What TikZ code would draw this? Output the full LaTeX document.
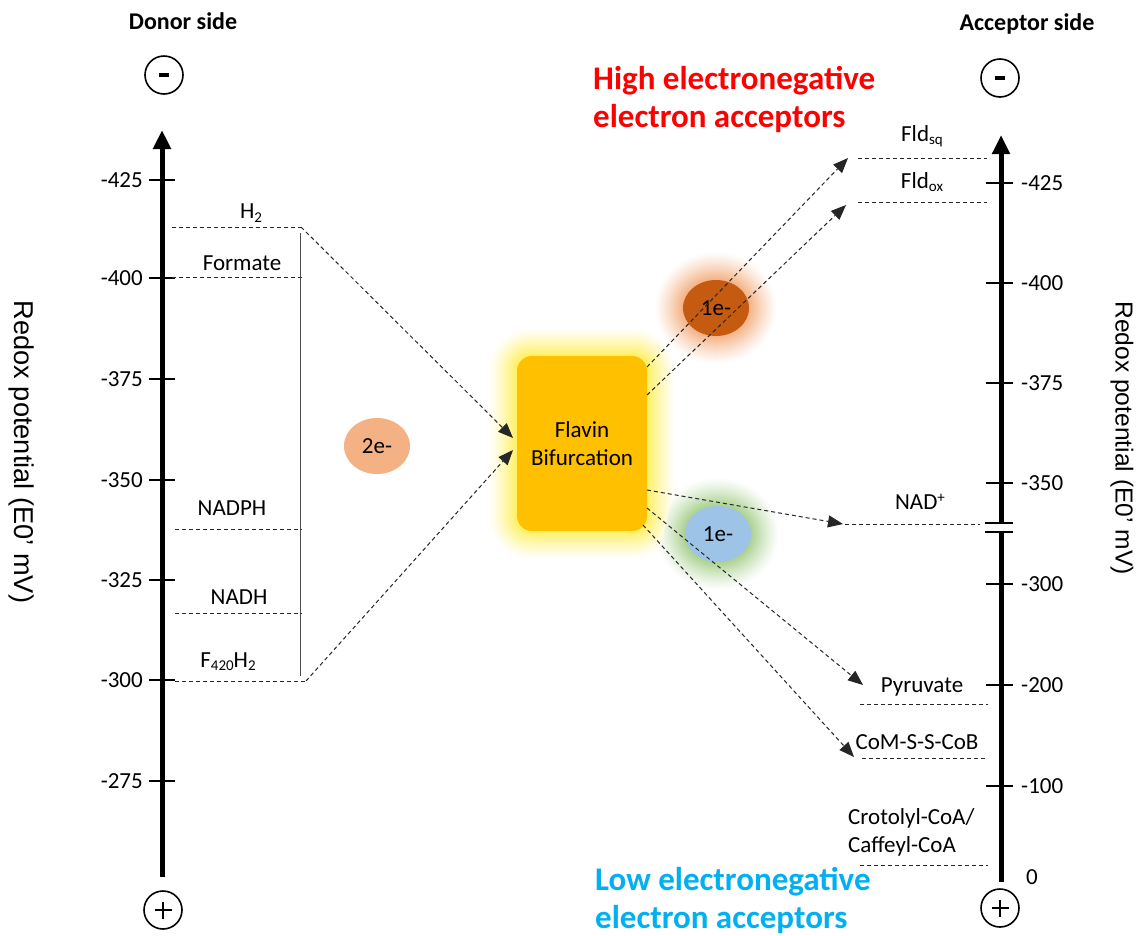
\documentclass[tikz,border=0pt]{standalone}
\usepackage{fontspec}
\setmainfont{Carlito}
\newfontfamily\arialf{Liberation Sans}
\usetikzlibrary{arrows.meta,shapes.geometric}
\definecolor{boxc}{HTML}{FFC000}
\definecolor{glowy}{HTML}{FFF060}
\definecolor{peach}{HTML}{F4B183}
\definecolor{rust}{HTML}{C55A11}
\definecolor{lblue}{HTML}{9DC3E6}
\definecolor{glowg}{HTML}{A9D18E}
\definecolor{hired}{HTML}{FF0000}
\definecolor{loblue}{HTML}{00B0F0}
\newcommand\subsc[1]{\raisebox{-0.3ex}{\fontsize{15}{15}\selectfont #1}}
\newcommand\supsc[1]{\raisebox{0.65ex}{\fontsize{15}{15}\selectfont #1}}
\tikzset{
  lbl/.style={font=\fontsize{23}{28}\selectfont, inner sep=0pt},
  head/.style={font=\bfseries\fontsize{24}{28}\selectfont, inner sep=0pt},
  big/.style={font=\bfseries\fontsize{33}{38}\selectfont, inner sep=0pt, align=left},
  ylab/.style={font=\arialf\fontsize{#1}{30}\selectfont, inner sep=0pt, rotate=-90, text=black},
  lvl/.style={line width=1pt, black!85, dash pattern=on 4pt off 3pt},
  arr/.style={lvl, -{Triangle[length=15pt,width=12pt]}},
  axisline/.style={line width=5pt, -{Triangle[length=19pt,width=17pt]}},
  axisbare/.style={line width=5pt},
  tickm/.style={line width=2.2pt},
  sign/.style={circle, draw, line width=1.6pt, minimum size=38pt, inner sep=0pt},
  blob/.style={ellipse, inner sep=0pt, minimum width=66pt, minimum height=56pt, font=\fontsize{23}{26}\selectfont},
}
\begin{document}
\begin{tikzpicture}[x=1pt,y=-1pt]
\useasboundingbox[fill=white] (0,0) rectangle (1139,935);

% ---------- glows ----------
\foreach \i in {28,27,...,1} {
  \pgfmathsetmacro\m{100*(1-\i/29)^1.2}
  \pgfmathsetmacro\r{15+\i}
  \fill[glowy!\m!white, rounded corners=\r pt] ({517-\i},{356-\i}) rectangle ({647+\i},{531+\i});
  \fill[peach!\m!white] (716,308) ellipse [x radius={33+\i}, y radius={28+\i}];
  \fill[glowg!\m!white] (718,534) ellipse [x radius={33+\i}, y radius={28+\i}];
}

% ---------- headings ----------
\node[head] (donor) at (183,21) {Donor side};
\node[head] (acceptor) at (1027,24) {Acceptor side};
\node[big, text=hired, anchor=west] (hi) at (593,99) {High electronegative\\electron acceptors};
\node[big, text=loblue, anchor=west] (lo) at (595,900) {Low electronegative\\electron acceptors};
\node[ylab=27.2] (ylL) at (22,452) {Redox potential (E0’ mV)};
\node[ylab=24.6] (ylR) at (1122,438) {Redox potential (E0’ mV)};

% ---------- sign circles ----------
\node[sign] (lminus) at (164,75) {};
\node[sign] (lplus) at (163,910) {};
\node[sign] (rminus) at (1000,78) {};
\node[sign] (rplus) at (1000,908) {};
\foreach \n in {lminus,rminus} \draw[line width=3.5pt] (\n.center) ++(-5,0) -- ++(10,0);
\foreach \n in {lplus,rplus} {
  \draw[line width=2.8pt] (\n.center) ++(-8.5,0) -- ++(17,0);
  \draw[line width=2.8pt] (\n.center) ++(0,-8.5) -- ++(0,17);
}

% ---------- left axis ----------
\coordinate (laxB) at (162,877);
\coordinate (laxT) at (162,130);
\draw[axisline] (laxB) -- (laxT);
\foreach \y/\t in {180/-425,278/-400,379/-375,480/-350,580/-325,680/-300,781/-275} {
  \draw[tickm] (149,\y) -- (175,\y);
  \node[lbl, anchor=east] at (143,\y) {\t};
}

% ---------- right axis ----------
\coordinate (raxB) at (1001,882);
\coordinate (raxM1) at (1001,532);
\coordinate (raxM2) at (1001,523);
\coordinate (raxT) at (1001,135);
\draw[axisline] (raxM2) -- (raxT);
\draw[axisbare] (raxB) -- (raxM1);
\draw[tickm] (985,523) -- (1013,523);
\draw[tickm] (985,532) -- (1013,532);
\foreach \y/\t in {183/-425,283/-400,383/-375,483/-350,584/-300,685/-200,786/-100} {
  \draw[tickm] (986,\y) -- (1013,\y);
  \node[lbl, anchor=west] at (1021,\y) {\t};
}
\node[lbl, anchor=west] at (1026,877) {0};

% ---------- donor levels ----------
\coordinate (h2L) at (172,227);   \coordinate (h2R) at (301,227);
\coordinate (foL) at (172,277);   \coordinate (foR) at (302,277);
\coordinate (npL) at (175,529);   \coordinate (npR) at (302,529);
\coordinate (nhL) at (175,613);   \coordinate (nhR) at (302,613);
\coordinate (fhL) at (175,681);   \coordinate (fhR) at (306,681);
\draw[lvl] (h2L) -- (h2R);
\draw[lvl] (foL) -- (foR);
\draw[lvl] (npL) -- (npR);
\draw[lvl] (nhL) -- (nhR);
\draw[lvl] (fhL) -- (fhR);
\coordinate (vT) at (300,233); \coordinate (vB) at (300,676);
\draw[line width=1pt, black!70] (vT) -- (vB);
\node[lbl] (h2) at (251,213) {H\subsc{2}};
\node[lbl] (form) at (242,263) {Formate};
\node[lbl] (nadph) at (232,508) {NADPH};
\node[lbl] (nadh) at (239,597) {NADH};
\node[lbl] (f420) at (228,662) {F\subsc{420}H\subsc{2}};

% ---------- 2e- ----------
\node[blob, fill=peach] (two) at (377,446) {2e-};

% ---------- flavin box ----------
\node[fill=boxc, rounded corners=15pt, minimum width=130pt, minimum height=175pt, inner sep=0pt, align=center, lbl] (fb) at (582,443.5) {Flavin\\Bifurcation};
\coordinate (in1) at (513,438);
\coordinate (in2) at (513,450);
\draw[arr] (h2R) -- (in1);
\draw[arr] (fhR) -- (in2);

% ---------- 1e- blobs ----------
\node[blob, fill=rust] (oneA) at (716,308) {1e-};
\node[blob, fill=lblue] (oneB) at (718,534) {1e-};

% ---------- acceptor levels ----------
\coordinate (sqL) at (858,158);  \coordinate (sqR) at (987,158);
\coordinate (oxL) at (858,202);  \coordinate (oxR) at (987,202);
\coordinate (naL) at (845,524);  \coordinate (naR) at (980,524);
\coordinate (pyL) at (860,704);  \coordinate (pyR) at (988,704);
\coordinate (coL) at (862,758);  \coordinate (coR) at (988,758);
\coordinate (crL) at (860,865);  \coordinate (crR) at (988,865);
\foreach \a/\b in {sqL/sqR,oxL/oxR,naL/naR,pyL/pyR,coL/coR,crL/crR} \draw[lvl] (\a) -- (\b);
\node[lbl] (fsq) at (922,136) {Fld\subsc{sq}};
\node[lbl] (fox) at (922,182) {Fld\subsc{ox}};
\node[lbl] (nadp) at (920,502) {NAD\supsc{+}};
\node[lbl] (pyr) at (922,687) {Pyruvate};
\node[lbl] (com) at (917,742) {CoM-S-S-CoB};
\node[lbl, anchor=west, align=left] (cro) at (848,832) {Crotolyl-CoA/\\Caffeyl-CoA};

% ---------- outgoing arrows ----------
\coordinate (o1) at (647,367);
\coordinate (o2) at (647,395);
\coordinate (o3) at (647,490);
\coordinate (o4) at (647,508);
\coordinate (o5) at (643,525);
\coordinate (t1) at (848,158);
\coordinate (t2) at (846,205);
\coordinate (t3) at (843,524);
\coordinate (t4) at (863,685);
\coordinate (t5) at (854,757);
\draw[arr] (o1) -- (t1);
\draw[arr] (o2) -- (t2);
\draw[arr] (o3) -- (t3);
\draw[arr] (o4) -- (t4);
\draw[arr] (o5) -- (t5);
\end{tikzpicture}
\end{document}
